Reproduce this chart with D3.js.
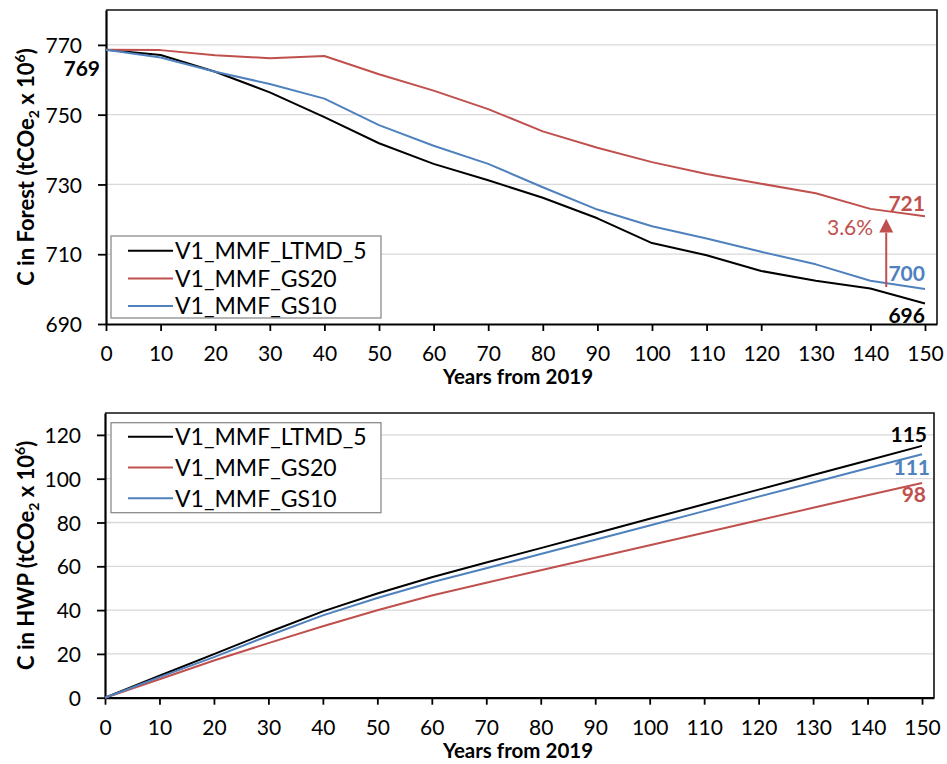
<!DOCTYPE html>
<html>
<head>
<meta charset="utf-8">
<script src="https://cdn.jsdelivr.net/npm/d3@7"></script>
<style>
  body { margin: 0; background: #fff; }
  svg { display: block; font-family: Lato, "Open Sans", sans-serif; }
</style>
</head>
<body>
<svg id="chart" width="947" height="764"></svg>
<script>

// years from 2019
var years = [0, 10, 20, 30, 40, 50, 60, 70, 80, 90, 100, 110, 120, 130, 140, 150];

var seriesNames = ["V1_MMF_LTMD_5", "V1_MMF_GS20", "V1_MMF_GS10"];
var seriesColors = ["#000000", "#C0504D", "#4F81BD"];

// C in forest (tCOe2 x 10^6)
var forestLTMD5 = [768.6, 767.1, 762.3, 756.4, 749.3, 741.8, 735.9, 731.2, 726.2, 720.3, 713.2, 709.7, 705.2, 702.4, 700.2, 695.9];
var forestGS20  = [768.6, 768.5, 767.0, 766.2, 766.8, 761.6, 756.9, 751.6, 745.2, 740.5, 736.4, 733.0, 730.2, 727.5, 723.0, 720.9];
var forestGS10  = [768.6, 766.4, 762.3, 758.8, 754.6, 747.0, 741.1, 735.9, 729.2, 722.8, 718.0, 714.5, 710.7, 707.1, 702.4, 700.0];

// C in HWP (tCOe2 x 10^6)
var hwpLTMD5 = [0, 10.0, 19.9, 29.9, 39.4, 47.6, 55.0, 61.7, 68.3, 75.0, 81.7, 88.3, 95.0, 101.7, 108.3, 115.0];
var hwpGS20  = [0, 8.4, 17.0, 24.9, 32.6, 39.9, 46.7, 52.5, 58.2, 63.9, 69.6, 75.3, 81.0, 86.7, 92.4, 98.0];
var hwpGS10  = [0, 9.4, 18.5, 28.3, 37.6, 45.5, 52.7, 59.1, 65.6, 72.1, 78.6, 85.2, 91.8, 98.3, 104.8, 111.2];

var forestTicks = [690, 710, 730, 750, 770];
var hwpTicks = [0, 20, 40, 60, 80, 100, 120];
var xTicks = [0, 10, 20, 30, 40, 50, 60, 70, 80, 90, 100, 110, 120, 130, 140, 150];

var svg = d3.select("#chart");

var drawPanel = function( cfg ) {
    var x = d3.scaleLinear().domain( [0, 152.2] ).range( [cfg.left, cfg.right] );
    var y = d3.scaleLinear().domain( cfg.yDomain ).range( [cfg.bottom, cfg.top] );
    var g = svg.append( "g" );

    // gridlines
    g.selectAll( "line.grid" )
      .data( cfg.yTicks.slice( 1 ) )
      .enter().append( "line" )
      .attr( "x1", cfg.left ).attr( "x2", cfg.right )
      .attr( "y1", function(d) { return y(d); } )
      .attr( "y2", function(d) { return y(d); } )
      .attr( "stroke", "#d9d9d9" )
      .attr( "stroke-width", 1.3 )
      ;

    // frame top / right
    g.append( "path" )
      .attr( "d", "M" + cfg.left + "," + cfg.top + "H" + cfg.right + "V" + cfg.bottom )
      .attr( "fill", "none" )
      .attr( "stroke", "#111" )
      .attr( "stroke-width", 1.6 )
      ;

    var xAxis = g.append( "g" )
      .attr( "transform", "translate(0," + cfg.bottom + ")" )
      .call( d3.axisBottom( x ).tickValues( xTicks ).tickSize( 7 ).tickPadding( 15 ).tickSizeOuter( 0 ) );
    var yAxis = g.append( "g" )
      .attr( "transform", "translate(" + cfg.left + ",0)" )
      .call( d3.axisLeft( y ).tickValues( cfg.yTicks ).tickSize( 8 ).tickPadding( 16 ).tickSizeOuter( 0 ) );
    [xAxis, yAxis].forEach( function( a ) {
        a.select( ".domain" ).attr( "stroke", "#000" ).attr( "stroke-width", 2.2 );
        a.selectAll( ".tick line" ).attr( "stroke", "#000" ).attr( "stroke-width", 1.8 );
        a.selectAll( ".tick text" )
          .attr( "fill", "#000" )
          .style( "font-size", "21px" )
          .style( "font-family", "Lato, 'Open Sans', sans-serif" );
    });
    yAxis.selectAll( ".tick text" ).attr( "dy", "0.36em" );

    // lines
    var line = d3.line()
      .x( function(d, i) { return x( years[i] ); } )
      .y( function(d) { return y(d); } );
    cfg.series.forEach( function( s, i ) {
        g.append( "path" )
          .datum( s )
          .attr( "d", line )
          .attr( "fill", "none" )
          .attr( "stroke", seriesColors[i] )
          .attr( "stroke-width", 2 )
          .attr( "stroke-linejoin", "round" )
          ;
    });

    // axis titles
    g.append( "text" )
      .text( "Years from 2019" )
      .attr( "x", 518 )
      .attr( "y", cfg.bottom + cfg.xTitleDy )
      .attr( "text-anchor", "middle" )
      .style( "font-size", "20.5px" )
      .style( "font-weight", "bold" )
      ;
    var yt = g.append( "text" )
      .attr( "transform", "translate(34," + (cfg.top + cfg.bottom) / 2 + ") rotate(-90)" )
      .attr( "text-anchor", "middle" )
      .style( "font-size", "22px" )
      .style( "font-weight", "bold" )
      ;
    yt.append( "tspan" ).text( cfg.yTitle + " (tCOe" );
    yt.append( "tspan" ).text( "2" ).attr( "dy", 5 ).style( "font-size", "14px" );
    yt.append( "tspan" ).text( " x 10" ).attr( "dy", -5 );
    yt.append( "tspan" ).text( "6" ).attr( "dy", -9 ).style( "font-size", "14px" );
    yt.append( "tspan" ).text( ")" ).attr( "dy", 9 );

    // legend
    var lg = g.append( "g" );
    lg.append( "rect" )
      .attr( "x", 111 ).attr( "y", cfg.legTop )
      .attr( "width", 270 ).attr( "height", cfg.legH )
      .attr( "fill", "#fff" )
      .attr( "stroke", "#8c8c8c" )
      .attr( "stroke-width", 1.3 )
      ;
    seriesNames.forEach( function( name, i ) {
        var ry = cfg.legRow0 + i * cfg.legStep;
        lg.append( "line" )
          .attr( "x1", 128 ).attr( "x2", 173 )
          .attr( "y1", ry ).attr( "y2", ry )
          .attr( "stroke", seriesColors[i] )
          .attr( "stroke-width", 2 )
          ;
        lg.append( "text" )
          .text( name )
          .attr( "x", 175 ).attr( "y", ry )
          .attr( "dy", "0.36em" )
          .style( "font-size", "23px" )
          ;
    });

    // end value labels
    cfg.labels.forEach( function( l ) {
        g.append( "text" )
          .text( l.text )
          .attr( "x", x( l.t ) + l.dx )
          .attr( "y", y( l.v ) + l.dy )
          .attr( "dy", "0.36em" )
          .attr( "text-anchor", "end" )
          .attr( "fill", l.color )
          .style( "font-size", "21px" )
          .style( "font-weight", l.bold ? "bold" : "normal" )
          ;
    });

    return { x: x, y: y, g: g };
};

var forestPanel = drawPanel({
    left: 106, right: 937, top: 10, bottom: 324,
    yDomain: [690, 780], yTicks: forestTicks,
    series: [forestLTMD5, forestGS20, forestGS10],
    yTitle: "C in Forest",
    xTitleDy: 60,
    legTop: 236, legH: 82, legRow0: 250.7, legStep: 27.7,
    labels: [
        { text: "769", t: 0, v: forestLTMD5[0], dx: -6, dy: 19, color: "#000", bold: true },
        { text: "721", t: 150, v: forestGS20[15], dx: 0, dy: -13, color: seriesColors[1], bold: true },
        { text: "700", t: 150, v: forestGS10[15], dx: 0, dy: -16, color: seriesColors[2], bold: true },
        { text: "696", t: 150, v: forestLTMD5[15], dx: 0, dy: 12, color: "#000", bold: true },
        { text: "3.6%", t: 140.5, v: 717.8, dx: 0, dy: 0, color: seriesColors[1], bold: false }
    ]
});

// arrow GS10 -> GS20
var ax = forestPanel.x( 142.9 );
forestPanel.g.append( "line" )
  .attr( "x1", ax ).attr( "x2", ax )
  .attr( "y1", forestPanel.y( 700.6 ) ).attr( "y2", forestPanel.y( 716.2 ) )
  .attr( "stroke", seriesColors[1] )
  .attr( "stroke-width", 2 )
  ;
forestPanel.g.append( "path" )
  .attr( "d", "M" + ax + "," + forestPanel.y( 720.2 )
            + "L" + (ax + 7) + "," + forestPanel.y( 716.2 )
            + "L" + (ax - 7) + "," + forestPanel.y( 716.2 ) + "Z" )
  .attr( "fill", seriesColors[1] )
  ;

drawPanel({
    left: 105, right: 934, top: 413, bottom: 697.7,
    yDomain: [0, 130], yTicks: hwpTicks,
    series: [hwpLTMD5, hwpGS20, hwpGS10],
    yTitle: "C in HWP",
    xTitleDy: 60,
    legTop: 422.7, legH: 90, legRow0: 436.7, legStep: 30.8,
    labels: [
        { text: "115", t: 150, v: hwpLTMD5[15], dx: 5, dy: -11, color: "#000", bold: true },
        { text: "111", t: 150, v: hwpGS10[15], dx: 8, dy: 13, color: seriesColors[2], bold: true },
        { text: "98", t: 150, v: hwpGS20[15], dx: 4, dy: 11, color: seriesColors[1], bold: true }
    ]
});

</script>
</body>
</html>
